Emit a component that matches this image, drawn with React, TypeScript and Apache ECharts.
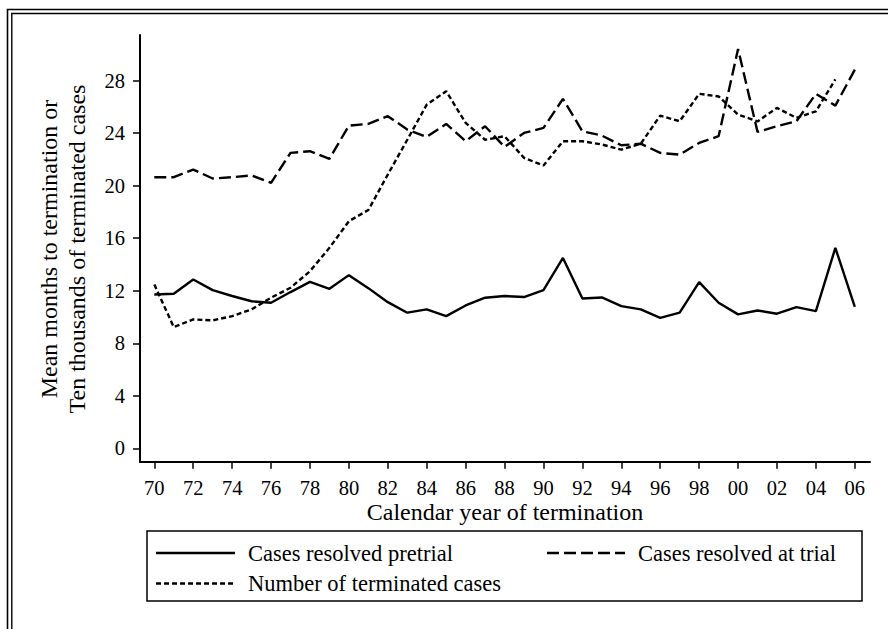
import { useEffect, useRef } from "react";
import * as echarts from "echarts";

const years = [
  1970, 1971, 1972, 1973, 1974, 1975, 1976, 1977, 1978, 1979, 1980, 1981, 1982,
  1983, 1984, 1985, 1986, 1987, 1988, 1989, 1990, 1991, 1992, 1993, 1994, 1995,
  1996, 1997, 1998, 1999, 2000, 2001, 2002, 2003, 2004, 2005, 2006,
];

const pretrial = [
  11.72, 11.77, 12.86, 12.05, 11.6, 11.2, 11.09, 11.9, 12.68, 12.15, 13.19, 12.2,
  11.13, 10.33, 10.58, 10.07, 10.88, 11.47, 11.6, 11.52, 12.05, 14.5, 11.41,
  11.49, 10.83, 10.58, 9.94, 10.33, 12.66, 11.09, 10.2, 10.5, 10.25, 10.75,
  10.45, 15.27, 10.78,
];

const trial = [
  20.65, 20.65, 21.23, 20.55, 20.65, 20.78, 20.22, 22.5, 22.63, 22.05, 24.58,
  24.71, 25.3, 24.28, 23.72, 24.71, 23.39, 24.53, 22.96, 24.02, 24.4, 26.61,
  24.15, 23.82, 23.08, 23.2, 22.5, 22.37, 23.26, 23.77, 30.42, 24.1, 24.53,
  24.91, 26.99, 26.1, 28.84,
];

const terminated = [
  12.48, 9.23, 9.82, 9.74, 10.07, 10.58, 11.47, 12.23, 13.49, 15.27, 17.3, 18.15,
  20.85, 23.5, 26.18, 27.2, 24.78, 23.5, 23.77, 22.12, 21.54, 23.39, 23.39,
  23.14, 22.75, 23.2, 25.34, 24.91, 27.0, 26.8, 25.42, 24.9, 25.93, 25.17,
  25.67, 28.1,
];

const xTickYears = [
  1970, 1972, 1974, 1976, 1978, 1980, 1982, 1984, 1986, 1988, 1990, 1992, 1994,
  1996, 1998, 2000, 2002, 2004, 2006,
];
const xTickLabels = [
  "70", "72", "74", "76", "78", "80", "82", "84", "86", "88", "90", "92", "94",
  "96", "98", "00", "02", "04", "06",
];
const yTicks = [0, 4, 8, 12, 16, 20, 24, 28];

const seriesNames = [
  "Cases resolved pretrial",
  "Cases resolved at trial",
  "Number of terminated cases",
];

const FONT = "'Liberation Serif', 'Times New Roman', serif";

export default function App() {
  const ref = useRef<HTMLDivElement>(null);

  useEffect(() => {
    if (!ref.current) return;
    const chart = echarts.init(ref.current, null, { renderer: "svg" });

    const pair = (vals: number[]) => vals.map((v, i) => [years[i], v]);

    const axisCommon = {
      type: "value" as const,
      splitLine: { show: false },
      axisLine: {
        show: true,
        onZero: false,
        lineStyle: { color: "#000", width: 2 },
      },
    };

    const legendLine = (x1: number, x2: number, y: number, dash: any) => ({
      type: "line",
      shape: { x1, y1: y, x2, y2: y },
      style: { stroke: "#000", lineWidth: 2.3, lineDash: dash },
      silent: true,
    });
    const legendText = (x: number, y: number, text: string) => ({
      type: "text",
      x,
      y,
      style: {
        text,
        fill: "#000",
        font: `22.5px ${FONT}`,
        align: "left",
        verticalAlign: "middle",
      },
      silent: true,
    });

    chart.setOption({
      animation: false,
      backgroundColor: "#fff",
      grid: { left: 140, top: 35, width: 730, height: 426.7, containLabel: false },
      xAxis: {
        ...axisCommon,
        min: 1969.265,
        max: 2006.78,
        axisTick: {
          show: true,
          customValues: xTickYears,
          length: 7,
          lineStyle: { color: "#000", width: 1.5 },
        },
        axisLabel: {
          customValues: xTickYears,
          formatter: (v: number) => {
            const k = xTickYears.indexOf(Math.round(v));
            return k >= 0 ? xTickLabels[k] : "";
          },
          margin: 17,
          lineHeight: 18,
          color: "#000",
          fontSize: 20.5,
          fontFamily: FONT,
        },
        name: "Calendar year of termination",
        nameLocation: "middle",
        nameGap: 40,
        nameMoveOverlap: false,
        nameTextStyle: {
          color: "#000",
          fontSize: 24,
          lineHeight: 20,
          fontFamily: FONT,
        },
      },
      yAxis: {
        ...axisCommon,
        min: -1.02,
        max: 31.48,
        axisTick: {
          show: true,
          customValues: yTicks,
          length: 7,
          lineStyle: { color: "#000", width: 1.5 },
        },
        axisLabel: {
          customValues: yTicks,
          margin: 15,
          color: "#000",
          fontSize: 20.5,
          fontFamily: FONT,
        },
      },
      series: [
        {
          name: seriesNames[0],
          type: "line",
          data: pair(pretrial),
          symbol: "none",
          lineStyle: { color: "#000", width: 2.4, type: "solid" },
        },
        {
          name: seriesNames[1],
          type: "line",
          data: pair(trial),
          symbol: "none",
          lineStyle: { color: "#000", width: 2.4, type: [12, 5] },
        },
        {
          name: seriesNames[2],
          type: "line",
          data: pair(terminated),
          symbol: "none",
          lineStyle: { color: "#000", width: 2.4, type: [5, 3] },
        },
      ],
      graphic: [
        {
          type: "rect",
          shape: { x: 7.5, y: 9.5, width: 900, height: 700 },
          style: { fill: "none", stroke: "#000", lineWidth: 1.6 },
          silent: true,
        },
        {
          type: "rect",
          shape: { x: 11.8, y: 13.5, width: 900, height: 700 },
          style: { fill: "none", stroke: "#000", lineWidth: 1.4 },
          silent: true,
        },
        {
          type: "text",
          x: 62.5,
          y: 249,
          rotation: Math.PI / 2,
          style: {
            text: "Mean months to termination or\nTen thousands of terminated cases",
            fill: "#000",
            font: `24px ${FONT}`,
            align: "center",
            verticalAlign: "middle",
            lineHeight: 28,
          },
          silent: true,
        },
        {
          type: "rect",
          shape: { x: 147, y: 531, width: 715, height: 70 },
          style: { fill: "none", stroke: "#000", lineWidth: 1.5 },
          silent: true,
        },
        legendLine(156, 235, 553, null),
        legendText(248, 553, seriesNames[0]),
        legendLine(547, 625, 553, [12, 5]),
        legendText(638, 553, seriesNames[1]),
        legendLine(156, 235, 583.5, [5, 3]),
        legendText(248, 583.5, seriesNames[2]),
      ],
    });

    return () => chart.dispose();
  }, []);

  return (
    <div
      ref={ref}
      style={{ position: "fixed", left: 0, top: 0, width: 888, height: 629 }}
    />
  );
}
